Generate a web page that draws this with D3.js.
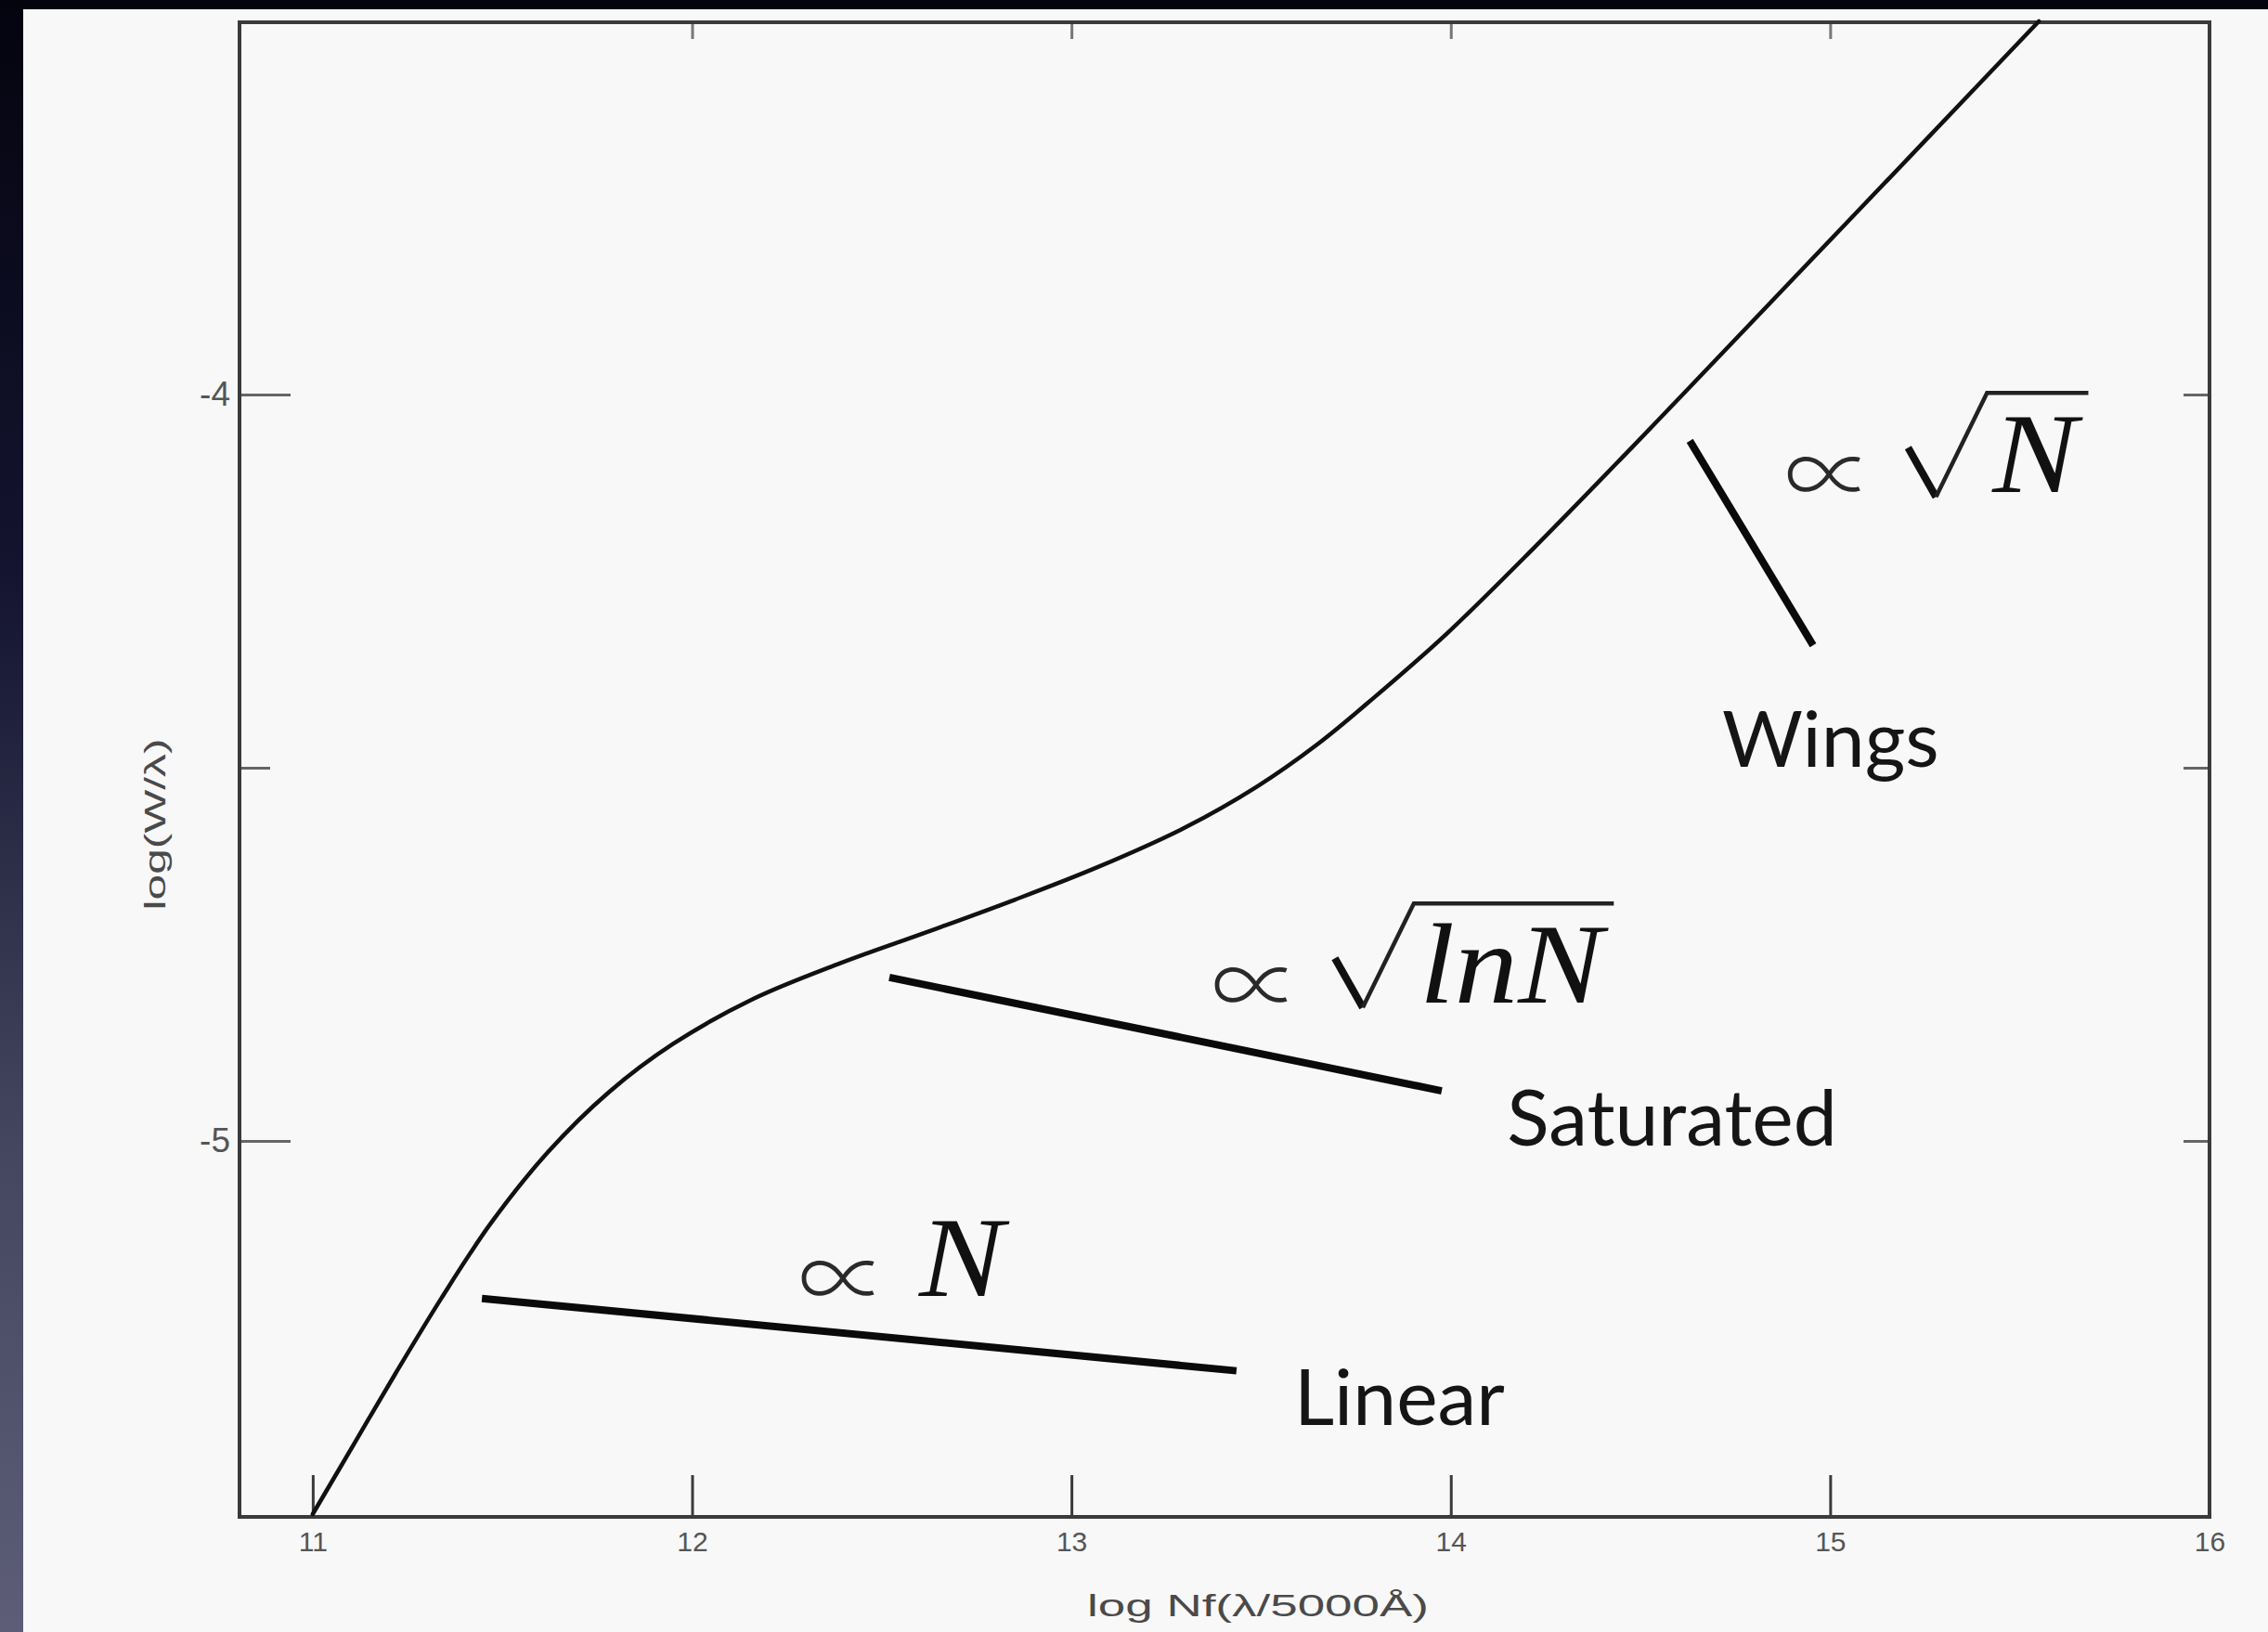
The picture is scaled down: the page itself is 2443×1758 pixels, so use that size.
<!DOCTYPE html>
<html>
<head>
<meta charset="utf-8">
<script src="https://cdn.jsdelivr.net/npm/d3@7"></script>
<style>
  html, body { margin: 0; padding: 0; background: #f8f8f8; overflow: hidden; }
  svg { display: block; }
</style>
</head>
<body>
<svg id="chart" width="2443" height="1758"></svg>
<script>
// Curve of growth: equivalent width against column density

// abscissa: log N f (λ/5000Å)
const curveLogNf = [11.00, 11.11, 11.22, 11.34, 11.47, 11.62, 11.78, 11.95, 12.16, 12.39,
                    12.62, 12.85, 13.07, 13.30, 13.49, 13.65, 13.80, 13.99, 14.22, 14.46,
                    14.63, 14.94, 15.25, 15.55];
// ordinate: log (W/λ)
const curveLogW = [-5.500, -5.405, -5.310, -5.210, -5.110, -5.015, -4.935, -4.870, -4.810, -4.762,
                   -4.720, -4.677, -4.633, -4.580, -4.525, -4.468, -4.405, -4.320, -4.205, -4.080,
                   -3.990, -3.825, -3.660, -3.500];

const xTicks = [11, 12, 13, 14, 15, 16];
const xTickLabels = ["11", "12", "13", "14", "15", "16"];
const yMajorTicks = [-5, -4];
const yMajorLabels = ["-5", "-4"];
const yMinorTicks = [-4.5];
const xTitle = "log Nf(λ/5000Å)";
const yTitle = "log(W/λ)";

// regime annotations
const regimeNames = ["Linear", "Saturated", "Wings"];
const regimeLaws = ["N", "lnN", "N"];
const regimeLawRadical = [false, true, true];
const regimeLineFrom = [[11.446, -5.211], [12.520, -4.781], [14.630, -4.062]];
const regimeLineTo = [[13.435, -5.308], [13.976, -4.933], [14.955, -4.336]];
const regimeNameAt = [[13.587, -5.381], [14.148, -5.006], [14.715, -4.499]];
const regimeLawAt = [[12.280, -5.208], [13.369, -4.815], [14.880, -4.131]];

const W = 2443, H = 1758;
const plot = { left: 258, right: 2380, top: 24, bottom: 1634 };

const svg = d3.select("#chart");

// dark slide surround along the top and left edges
const defs = svg.append("defs");
const grad = defs.append("linearGradient").attr("id", "edge")
  .attr("x1", 0).attr("y1", 0).attr("x2", 0).attr("y2", 1);
grad.append("stop").attr("offset", "0%").attr("stop-color", "#04040f");
grad.append("stop").attr("offset", "35%").attr("stop-color", "#141430");
grad.append("stop").attr("offset", "70%").attr("stop-color", "#44465f");
grad.append("stop").attr("offset", "100%").attr("stop-color", "#5d5d78");

svg.append("rect").attr("width", W).attr("height", H).attr("fill", "#f8f8f8");
svg.append("rect").attr("x", 0).attr("y", 0).attr("width", 25).attr("height", H).attr("fill", "url(#edge)");
svg.append("rect").attr("x", 0).attr("y", 0).attr("width", W).attr("height", 10).attr("fill", "#04040f");

const x = d3.scaleLinear().domain([10.807, 16]).range([plot.left, plot.right]);
const y = d3.scaleLinear().domain([-5.5, -3.5]).range([1631, 23]);

const axisColor = "#3a3a3a";
const tickFont = "'Liberation Sans', Arial, sans-serif";

// bottom axis: ticks pointing up into the plot
const gx = svg.append("g").attr("transform", `translate(0,${plot.bottom})`)
  .call(d3.axisBottom(x).tickValues(xTicks).tickFormat((d, i) => xTickLabels[i])
    .tickSize(-45).tickSizeOuter(0).tickPadding(16));
gx.select(".domain").remove();
gx.selectAll(".tick line").attr("stroke", axisColor).attr("stroke-width", 3);
gx.selectAll(".tick text").attr("font-family", tickFont).attr("font-size", 30)
  .attr("fill", "#555");

// top axis: short ticks pointing down
const gt = svg.append("g").attr("transform", `translate(0,${plot.top})`)
  .call(d3.axisTop(x).tickValues(xTicks.slice(1, -1)).tickFormat("")
    .tickSize(-18).tickSizeOuter(0));
gt.select(".domain").remove();
gt.selectAll(".tick line").attr("stroke", "#777").attr("stroke-width", 3);

// left axis: long labelled ticks and a shorter intermediate one
const gy = svg.append("g").attr("transform", `translate(${plot.left},0)`)
  .call(d3.axisLeft(y).tickValues(yMajorTicks).tickFormat((d, i) => yMajorLabels[i])
    .tickSize(-55).tickSizeOuter(0).tickPadding(10));
gy.select(".domain").remove();
gy.selectAll(".tick line").attr("stroke", "#666").attr("stroke-width", 3);
gy.selectAll(".tick text").attr("font-family", tickFont).attr("font-size", 37)
  .attr("fill", "#555");

const gym = svg.append("g").attr("transform", `translate(${plot.left},0)`)
  .call(d3.axisLeft(y).tickValues(yMinorTicks).tickFormat("").tickSize(-33).tickSizeOuter(0));
gym.select(".domain").remove();
gym.selectAll(".tick line").attr("stroke", "#666").attr("stroke-width", 3);

// right axis: ticks pointing left
const gr = svg.append("g").attr("transform", `translate(${plot.right},0)`)
  .call(d3.axisRight(y).tickValues(yMajorTicks.concat(yMinorTicks)).tickFormat("")
    .tickSize(-28).tickSizeOuter(0));
gr.select(".domain").remove();
gr.selectAll(".tick line").attr("stroke", "#666").attr("stroke-width", 3);

// frame
svg.append("rect")
  .attr("x", plot.left).attr("y", plot.top)
  .attr("width", plot.right - plot.left).attr("height", plot.bottom - plot.top)
  .attr("fill", "none").attr("stroke", axisColor).attr("stroke-width", 4);

// axis titles
svg.append("text")
  .attr("x", (plot.left + plot.right) / 2 + 36).attr("y", 1741)
  .attr("text-anchor", "middle")
  .attr("font-family", tickFont).attr("font-size", 34).attr("fill", "#4a4a4a")
  .attr("textLength", 368).attr("lengthAdjust", "spacingAndGlyphs")
  .text(xTitle);

svg.append("text")
  .attr("transform", `translate(178,888) rotate(-90)`)
  .attr("text-anchor", "middle")
  .attr("font-family", tickFont).attr("font-size", 32).attr("fill", "#4a4a4a")
  .attr("textLength", 185).attr("lengthAdjust", "spacingAndGlyphs")
  .text(yTitle);

// the curve
const pts = curveLogNf.map((v, i) => [v, curveLogW[i]]);
const line = d3.line().x(d => x(d[0])).y(d => y(d[1])).curve(d3.curveCatmullRom.alpha(0.5));
svg.append("path")
  .attr("d", line(pts))
  .attr("fill", "none").attr("stroke", "#111").attr("stroke-width", 4.5)
  .attr("stroke-linecap", "round");

// regime pointer lines and names
const ann = svg.append("g");
regimeNames.forEach((name, i) => {
  ann.append("line")
    .attr("x1", x(regimeLineFrom[i][0])).attr("y1", y(regimeLineFrom[i][1]))
    .attr("x2", x(regimeLineTo[i][0])).attr("y2", y(regimeLineTo[i][1]))
    .attr("stroke", "#0a0a0a").attr("stroke-width", 8);

  ann.append("text")
    .attr("x", x(regimeNameAt[i][0])).attr("y", y(regimeNameAt[i][1]))
    .attr("font-family", "Lato, 'Open Sans', sans-serif").attr("font-size", 84)
    .attr("fill", "#151515")
    .text(name);
});

// proportionality laws: ∝ N, ∝ √(lnN), ∝ √N
const plainGap = 130;   // ∝ start to the italic symbol
const radGap = 133;     // ∝ start to the radical sign
const radW = 85;        // width of the radical sign
const bodyStretch = 1.12;
regimeLaws.forEach((law, i) => {
  const x0 = x(regimeLawAt[i][0]);
  const base = y(regimeLawAt[i][1]);
  ann.append("text")
    .attr("x", x0).attr("y", base + 16)
    .attr("font-family", "'Noto Sans CJK JP', 'DejaVu Sans', sans-serif")
    .attr("font-weight", 300).attr("font-size", 96)
    .attr("fill", "#2a2a2a")
    .text("∝");
  const rx = x0 + radGap;
  const bx = regimeLawRadical[i] ? rx + radW + 6 : x0 + plainGap;
  const body = ann.append("text")
    .attr("x", bx).attr("y", base)
    .attr("font-family", "'Liberation Serif', 'Times New Roman', serif")
    .attr("font-style", "italic").attr("font-size", 122)
    .attr("fill", "#111")
    .text(law);
  const bw = body.node().getComputedTextLength() * bodyStretch;
  body.attr("textLength", bw).attr("lengthAdjust", "spacingAndGlyphs");
  if (regimeLawRadical[i]) {
    const top = base - 107;
    ann.append("path")
      .attr("d", `M${rx},${base - 48} L${rx + 30},${base + 5}`)
      .attr("stroke", "#111").attr("stroke-width", 8).attr("fill", "none");
    ann.append("path")
      .attr("d", `M${rx + 30},${base + 5} L${rx + radW},${top} L${bx + bw + 12},${top}`)
      .attr("stroke", "#222").attr("stroke-width", 4.5).attr("fill", "none")
      .attr("stroke-linejoin", "miter");
  }
});
</script>
</body>
</html>
